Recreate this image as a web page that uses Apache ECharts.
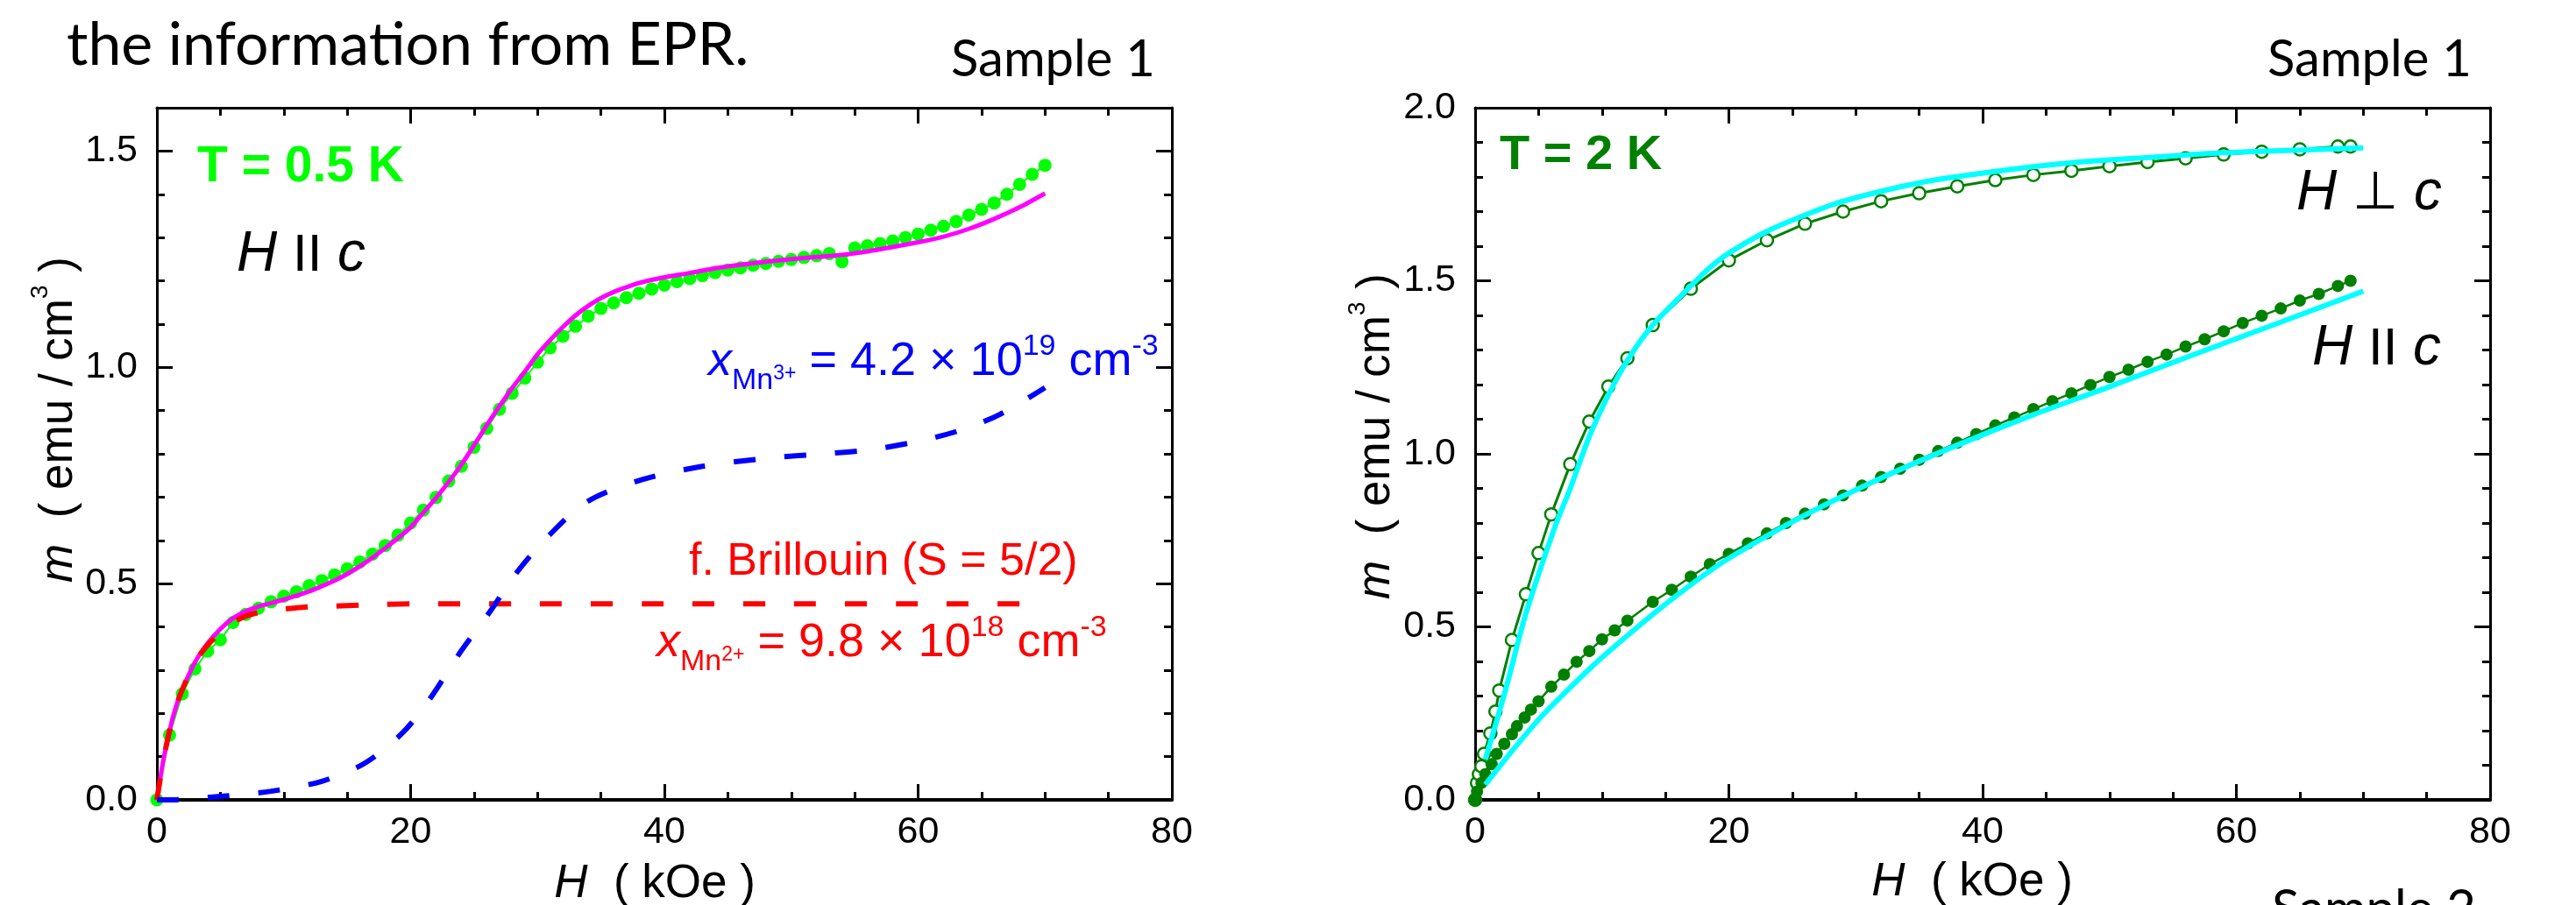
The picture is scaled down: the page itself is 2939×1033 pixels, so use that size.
<!DOCTYPE html>
<html><head><meta charset="utf-8">
<script src="https://cdn.jsdelivr.net/npm/echarts@6/dist/echarts.min.js"></script>
<style>html,body{margin:0;padding:0;background:#fff}#c{width:2939px;height:1033px}</style>
</head><body><div id="c"></div>
<script>
// ---------- Left panel (T = 0.5 K, H || c) ----------
const dotH05 = [0,1,2,3,4,5,6,7,8,9,10,11,12,13,14,15,16,17,18,19,20,21,22,23,24,25,26,27,28,29,30,31,32,33,34,35,36,37,38,39,40,41,42,43,44,45,46,47,48,49,50,51,52,53,54,55,56,57,58,59,60,61,62,63,64,65,66,67,68,69,70];
const dotM05 = [0,0.150,0.245,0.303,0.344,0.370,0.410,0.429,0.443,0.458,0.471,0.481,0.495,0.507,0.520,0.534,0.550,0.568,0.588,0.612,0.640,0.670,0.699,0.737,0.771,0.815,0.859,0.903,0.940,0.975,1.012,1.045,1.072,1.095,1.118,1.136,1.149,1.161,1.171,1.181,1.190,1.198,1.205,1.212,1.219,1.225,1.230,1.236,1.240,1.245,1.249,1.254,1.258,1.263,1.244,1.276,1.281,1.286,1.292,1.300,1.308,1.317,1.326,1.337,1.352,1.365,1.380,1.400,1.423,1.446,1.467];
const fitH = [0,0.5,1,1.5,2,3,4,5,6,7,8,9,10,11,12,13,14,15,16,17,18,19,20,21,22,23,24,25,26,27,28,29,30,31,32,33,34,35,36,37,38,40,42,44,46,48,50,52,54,56,58,60,62,64,66,68,70];
const fitM = [0,0.09,0.16,0.215,0.255,0.318,0.362,0.395,0.42,0.436,0.447,0.455,0.463,0.472,0.482,0.494,0.507,0.522,0.540,0.560,0.582,0.605,0.630,0.664,0.698,0.735,0.775,0.82,0.866,0.91,0.952,0.99,1.03,1.063,1.093,1.12,1.142,1.16,1.174,1.185,1.195,1.208,1.218,1.229,1.237,1.244,1.250,1.255,1.260,1.268,1.278,1.289,1.302,1.320,1.343,1.370,1.402];
const brilH = [0,0.5,1,1.5,2,3,4,5,6,7,8,9,10,11,12,14,16,18,20,25,30,40,50,60,70];
const brilM = [0,0.09,0.16,0.215,0.255,0.318,0.358,0.386,0.41,0.425,0.433,0.438,0.441,0.444,0.446,0.448,0.45,0.452,0.453,0.453,0.453,0.453,0.453,0.453,0.453];
const mn3H = [0,2,5,9,13,16.4,19.4,21.6,24,26.2,28.4,30.8,33.9,38.2,43,48.5,52.7,56.6,60.5,63.7,66.5,70];
const mn3M = [0,0.001,0.008,0.02,0.043,0.085,0.156,0.237,0.345,0.433,0.527,0.608,0.689,0.74,0.771,0.791,0.80,0.811,0.832,0.858,0.892,0.953];

// ---------- Right panel (T = 2 K) ----------
const perpH = [0,0.15,0.3,0.5,0.7,1.2,1.6,1.9,2.9,4,5,6,7.5,9,10.5,12,14,17,20,23,26,29,32,35,38,41,44,47,50,53,56,59,62,65,68,69];
const perpM = [0,0.049,0.074,0.097,0.133,0.192,0.255,0.316,0.462,0.594,0.713,0.825,0.970,1.093,1.194,1.276,1.372,1.477,1.559,1.617,1.665,1.700,1.730,1.753,1.773,1.791,1.806,1.818,1.831,1.843,1.854,1.865,1.873,1.880,1.888,1.888];
const parH = [0,0.15,0.5,0.8,1.3,1.7,2.3,2.9,3.3,3.9,4.4,5,6,7,8,9,10,11,12,14,15.5,17,18.5,20,21.5,23,24.5,26,27.5,29,30.5,32,33.5,35,36.5,38,39.5,41,42.5,44,45.5,47,48.5,50,51.5,53,54.5,56,57.5,59,60.5,62,63.5,65,66.5,68,69];
const parM = [0,0.024,0.049,0.074,0.103,0.133,0.162,0.190,0.213,0.238,0.261,0.285,0.327,0.362,0.399,0.430,0.464,0.490,0.518,0.572,0.607,0.645,0.681,0.711,0.741,0.770,0.800,0.827,0.854,0.880,0.908,0.933,0.957,0.983,1.008,1.032,1.057,1.082,1.105,1.129,1.152,1.175,1.199,1.222,1.243,1.266,1.287,1.310,1.331,1.354,1.378,1.399,1.420,1.443,1.462,1.485,1.500];
const fitPerpH = [0.8,2.4,4,6.3,7.5,9,10.5,12,14,17,18.4,20,23,26,29,35,41,47,53,59,65,70];
const fitPerpM = [0.116,0.318,0.538,0.79,0.90,1.05,1.17,1.27,1.372,1.485,1.535,1.58,1.643,1.69,1.73,1.783,1.816,1.841,1.856,1.870,1.878,1.884];
const fitParH = [0.8,2.9,5.2,7.5,9.8,12.1,14.4,17.2,20,26,32,38,44,50,56,62,70];
const fitParM = [0.044,0.141,0.240,0.325,0.405,0.478,0.548,0.627,0.698,0.823,0.930,1.025,1.113,1.194,1.278,1.360,1.470];

const xTicks = [0, 20, 40, 60, 80];

const F = 'Liberation Sans, Arial, Helvetica, sans-serif';
const FC = 'Lato, Open Sans, sans-serif';
const zip = (a, b) => a.map((v, i) => [v, b[i]]);

const chart = echarts.init(document.getElementById('c'), null, {renderer: 'canvas'});

function xAx(grid, pos, w) {
  return {type: 'value', gridIndex: grid, position: pos, min: xTicks[0], max: xTicks[xTicks.length - 1], interval: 20,
    axisLine: {show: true, onZero: false, lineStyle: {color: '#000', width: w}},
    axisTick: {show: true, inside: true, length: 18, lineStyle: {color: '#000', width: 3}},
    minorTick: {show: true, splitNumber: 4, length: 9, lineStyle: {color: '#000', width: 3}},
    axisLabel: {show: pos === 'bottom', margin: 16, fontSize: 43, fontFamily: F, color: '#000'},
    splitLine: {show: false}, minorSplitLine: {show: false}};
}
function yMaj(grid, pos, max, label, minor) {
  return {type: 'value', gridIndex: grid, position: pos, min: 0, max: max, interval: 0.5,
    axisLine: {show: true, onZero: false, lineStyle: {color: '#000', width: 3}},
    axisTick: {show: true, inside: true, length: 18, lineStyle: {color: '#000', width: 3}},
    minorTick: {show: !!minor, splitNumber: 5, length: 9, lineStyle: {color: '#000', width: 3}},
    axisLabel: {show: label, margin: 22, fontSize: 43, fontFamily: F, color: '#000', showMaxLabel: max === 2,
      formatter: v => v.toFixed(1)},
    splitLine: {show: false}, minorSplitLine: {show: false}};
}
function yMin(grid, pos, max) {
  return {type: 'value', gridIndex: grid, position: pos, min: 0, max: max, interval: 0.1,
    axisLine: {show: false, onZero: false},
    axisTick: {show: true, inside: true, length: 9, lineStyle: {color: '#000', width: 3}},
    axisLabel: {show: false}, splitLine: {show: false}};
}

const base = {type: 'line', animation: false};
const series = [
  Object.assign({}, base, {name: 'T05', xAxisIndex: 0, yAxisIndex: 0, data: zip(dotH05, dotM05), symbol: 'circle', symbolSize: 15,
    showSymbol: true, clip: false, itemStyle: {color: '#00ff00'}, lineStyle: {color: '#00ff00', width: 2}, z: 2}),
  Object.assign({}, base, {name: 'fit', xAxisIndex: 0, yAxisIndex: 0, data: zip(fitH, fitM), showSymbol: false, smooth: 0.25,
    lineStyle: {color: '#ff00ff', width: 5}, z: 3}),
  Object.assign({}, base, {name: 'Mn2', xAxisIndex: 0, yAxisIndex: 0, data: zip(brilH, brilM), showSymbol: false, smooth: 0.25,
    lineStyle: {color: '#ff0000', width: 6, type: [25, 33], cap: 'butt'}, z: 4}),
  Object.assign({}, base, {name: 'Mn3', xAxisIndex: 0, yAxisIndex: 0, data: zip(mn3H, mn3M), showSymbol: false, smooth: 0.3,
    lineStyle: {color: '#0000ff', width: 6, type: [25, 33], cap: 'butt'}, z: 4}),
  Object.assign({}, base, {name: 'perp', xAxisIndex: 2, yAxisIndex: 4, data: zip(perpH, perpM), symbol: 'circle', symbolSize: 14,
    showSymbol: true, clip: false, itemStyle: {color: '#ffffff', borderColor: '#008000', borderWidth: 2.5}, lineStyle: {color: '#008000', width: 3}, z: 2}),
  Object.assign({}, base, {name: 'par', xAxisIndex: 2, yAxisIndex: 4, data: zip(parH, parM), symbol: 'circle', symbolSize: 14,
    showSymbol: true, clip: false, itemStyle: {color: '#008000'}, lineStyle: {color: '#008000', width: 2.5}, z: 2}),
  Object.assign({}, base, {name: 'fitPerp', xAxisIndex: 2, yAxisIndex: 4, data: zip(fitPerpH, fitPerpM), showSymbol: false, smooth: 0.3,
    lineStyle: {color: '#00ffff', width: 6}, z: 3}),
  Object.assign({}, base, {name: 'fitPar', xAxisIndex: 2, yAxisIndex: 4, data: zip(fitParH, fitParM), showSymbol: false, smooth: 0.3,
    lineStyle: {color: '#00ffff', width: 6}, z: 3})
];

function txt(x, y, style, extra) {
  return Object.assign({type: 'text', x: x, y: y, z: 100,
    style: Object.assign({align: 'left', verticalAlign: 'middle', textAlign: 'left', textVerticalAlign: 'middle', fill: '#000', fontFamily: F}, style)}, extra || {});
}
function formulaRich(col) {
  return {
    fx: {fontSize: 54, fontFamily: F, fontStyle: 'italic', fill: col},
    fsub: {fontSize: 34, fontFamily: F, fill: col, padding: [44, 0, 0, 0]},
    fss: {fontSize: 23, fontFamily: F, fill: col, padding: [27, 0, 0, 0]},
    fn: {fontSize: 54, fontFamily: F, fill: col},
    fsup: {fontSize: 34, fontFamily: F, fill: col, padding: [0, 0, 34, 0]}
  };
}
const hRich = {
  hi: {fontSize: 64, fontFamily: F, fontStyle: 'italic', fill: '#000'},
  hp: {fontSize: 60, fontFamily: F, fill: '#000', padding: [2, 0, 0, 0]},
  hs: {fontSize: 64, fontFamily: F, fill: '#000'},
  perp: {fontSize: 60, fontFamily: 'DejaVu Sans, sans-serif', fill: '#000', padding: [3, 0, 0, 0]}
};
const axRich = {
  i: {fontSize: 53, fontFamily: F, fontStyle: 'italic', fill: '#000'},
  n: {fontSize: 53, fontFamily: F, fill: '#000'},
  sup: {fontSize: 28, fontFamily: F, fill: '#000', padding: [0, 0, 41, 0]}
};

const graphics = [
  txt(76, 52, {text: 'the information from EPR.', fontSize: 68, fontFamily: FC}),
  txt(1085, 68, {text: 'Sample 1', fontSize: 58, fontFamily: FC}),
  txt(2587, 68, {text: 'Sample 1', fontSize: 58, fontFamily: FC}),
  txt(2592, 1038, {text: 'Sample 2', fontSize: 58, fontFamily: FC}),
  txt(225, 191, {text: 'T = 0.5 K', fontSize: 57, fontWeight: 'bold', fill: '#00ff00'}),
  txt(270, 291, {text: '{hi|H}{hs| }{hp|II}{hs| }{hi|c}', rich: hRich, fontSize: 64}),
  txt(808, 413, {text: '{fx|x}{fsub|Mn}{fss|3+}{fn| = 4.2 × 10}{fsup|19}{fn| cm}{fsup|-3}', rich: formulaRich('#0000ff'), fontSize: 54, fill: '#0000ff'}),
  txt(786, 642, {text: 'f. Brillouin (S = 5/2)', fontSize: 52, fill: '#ff0000'}),
  txt(749, 734, {text: '{fx|x}{fsub|Mn}{fss|2+}{fn| = 9.8 × 10}{fsup|18}{fn| cm}{fsup|-3}', rich: formulaRich('#ff0000'), fontSize: 54, fill: '#ff0000'}),
  txt(1711, 178, {text: 'T = 2 K', fontSize: 56, fontWeight: 'bold', fill: '#008000'}),
  txt(2620, 221, {text: '{hi|H}{hs| }{perp|⊥}{hs| }{hi|c}', rich: hRich, fontSize: 64}),
  txt(2638, 398, {text: '{hi|H}{hs| }{hp|II}{hs| }{hi|c}', rich: hRich, fontSize: 64}),
  txt(747, 1009, {text: '{i|H}{n|  ( kOe )}', rich: axRich, fontSize: 53, align: 'center', textAlign: 'center'}),
  txt(2250, 1007, {text: '{i|H}{n|  ( kOe )}', rich: axRich, fontSize: 53, align: 'center', textAlign: 'center'}),
  txt(67, 479, {text: '{i|m}{n|  ( emu / cm}{sup|3}{n| )}', rich: axRich, fontSize: 53, align: 'center', textAlign: 'center'}, {rotation: Math.PI / 2}),
  txt(1570, 498, {text: '{i|m}{n|  ( emu / cm}{sup|3}{n| )}', rich: axRich, fontSize: 53, align: 'center', textAlign: 'center'}, {rotation: Math.PI / 2})
];

chart.setOption({
  animation: false,
  backgroundColor: '#ffffff',
  grid: [
    {left: 179, top: 123, width: 1158, height: 790, containLabel: false},
    {left: 1683, top: 123, width: 1158, height: 790, containLabel: false}
  ],
  xAxis: [xAx(0, 'bottom', 4), xAx(0, 'top', 3), xAx(1, 'bottom', 4), xAx(1, 'top', 3)],
  yAxis: [
    yMaj(0, 'left', 1.6, true, false), yMin(0, 'left', 1.6),
    yMaj(0, 'right', 1.6, false, false), yMin(0, 'right', 1.6),
    yMaj(1, 'left', 2, true, true), yMaj(1, 'right', 2, false, true)
  ],
  series: series,
  graphic: {elements: graphics}
});
</script></body></html>
